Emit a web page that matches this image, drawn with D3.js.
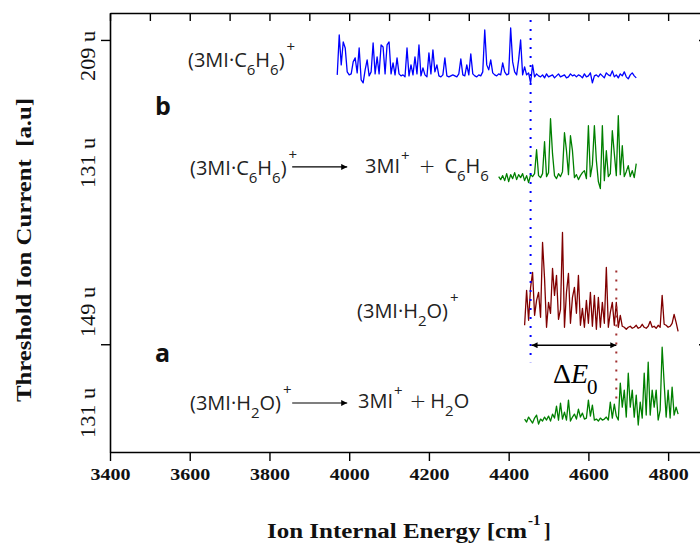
<!DOCTYPE html>
<html>
<head>
<meta charset="utf-8">
<script src="https://cdn.jsdelivr.net/npm/d3@7/dist/d3.min.js"></script>
<style>
html,body{margin:0;padding:0;background:#fff;overflow:hidden;}
svg{display:block;}
</style>
</head>
<body>
<svg id="chart" width="700" height="546"></svg>
<script>
// ---------------- data ----------------
const stepCm = 5;

// (3MI·C6H6)+  209 u  (blue)
const blueStart = 3970;
const blueValues = [
  0, 4.0, 1.0, 3.3, 2.7, 0.3, 0, 0.1, 1.3, 1.7,
  0.2, 2.7, -0.5, -0.8, 0.5, 1.5, -0.1, 0.3, 3.2, 0.1,
  1.8, 0.1, 3.0, 2.8, 0.1, 3.0, 3.3, 0.1, 1.2, 0,
  1.7, 0.1, -0.1, 0, -0.2, 2.7, -0.1, 1.0, 0, 1.8,
  0.1, 3.0, -0.1, 0.7, 0, -0.2, 2.2, 0.1, 2.5, 0.3,
  1.0, -0.1, -0.2, 0, 1.7, -0.1, -0.2, -0.1, 0, -0.1,
  -0.2, 0.1, 1.6, 0, -0.1, 1.0, 0, 2.1, 0.1, -0.1,
  -0.2, 0, -0.1, 0.3, 4.5, 1.0, 0.5, 1.5, 0.2, 0,
  -0.1, 0.1, 0, 1.2, 0.3, 0, 0.1, 4.7, 1.3, 0.3,
  0, 1.5, 3.5, 0, 0.8, 0, 0.2, -0.8, 1.0, -0.2,
  0.1,
  -0.1, -0.2, 0.0, -0.3, 0.1, -0.2, -0.1, 0.0, -0.3, -0.1,
  0.1, -0.2, -0.1, 0.0, -0.3, -0.2, 0.1, -0.1, 0.0, -0.2,
  0.0, -0.1, -0.3, 0.1, -0.2, -0.1, 0.2, -0.8, -0.1, 0.0,
  -0.2, 0.1, -0.1, -0.3, 0.2, 0.0, -0.1, 0.4, -0.2, 0.0,
  -0.3, 0.1, -0.1, 0.3, -0.2, -0.4, 0.0, 0.2, -0.1, -0.3
];

// (3MI·C6H6)+ -> 3MI+ + C6H6   131 u  (green, panel b)
const greenTopStart = 4375;
const greenTopValues = [
  0.0, -0.3, 0.1, -0.4, 0.3, -0.5, 0.2, -0.2, 0.4, -0.3,
  0.2, -0.1, 0.3, -0.4, 0.1, -0.6, 0.2, 0.0, 0.3, 2.7,
  0.1, -0.1, 0.3, 3.5, 0.0, 0.4, 5.8, 2.3, 0.1, -0.2,
  0.3, 0.0, 0.5, 4.4, 2.6, 0.2, 4.1, 2.6, -0.1, 0.2,
  -0.3, 0.1, 0.4, 0.6, -0.2, 5.1, 0.0, 1.2, 5.1, 1.6,
  -0.5, -1.2, 5.1, -0.4, 2.6, 0.0, 0.3, 4.6, 2.3, 0.1,
  6.1, 0.2, 3.1, 0.0, 0.5, 1.1, 0.0, 0.6, -0.1, 1.3
];

// (3MI·H2O)+  149 u  (dark red)
const redStart = 4440;
const redValues = [
  0.2, 3.7, 0.7, 4.0, 5.5, 1.2, 2.7, 3.5, 1.0, 8.5,
  4.9, 0.0, 2.5, 1.4, 5.9, 3.2, 5.2, 0.8, 1.8, 9.5,
  0.0, 3.5, 5.4, 0.4, 3.0, 4.0, 1.4, 5.2, 0.2, 1.9,
  0.0, 2.7, 0.4, 3.5, 0.1, 3.2, -0.2, 3.0, 0.0, 2.5,
  0.4, 6.0, 0.0, 1.5, 2.5, 0.2, 2.5, 0.0, 1.2, 0.1,
  0.0, -0.2, 0.0, 0.1, -0.1, 0.0, 0.2, -0.1, 0.0, 0.3,
  0.0, -0.1, 0.1, 0.6, 0.0, 0.1, -0.1, 0.2, 0.0, 3.2,
  0.3, 0.2, 0.0, 0.1, 0.4, 1.3, 0.5, -0.4
];

// (3MI·H2O)+ -> 3MI+ + H2O   131 u  (green, panel a)
const greenBottomStart = 4440;
const greenBottomValues = [
  0.1, -0.2, 0.3, 0.0, -0.3, 0.2, 0.5, -0.4, 0.1, -0.1,
  0.3, 0.0, 0.4, -0.1, 0.6, 0.2, 1.4, 0.0, 1.7, 0.1,
  0.8, 0.0, 2.0, -0.1, 0.3, 0.6, 0.1, 1.1, 0.3, 0.7,
  0.1, 0.2, 2.0, 0.4, 1.5, 0.0, 0.1, -0.1, 0.2, 0.0,
  0.1, 0.3, 0.0, 1.8, 0.2, 1.6, 0.4, 0.0, 3.7, 1.3,
  3.0, 0.3, 4.7, 1.3, 3.0, 0.3, 2.5, -0.5, 1.8, 0.2,
  4.7, 0.5, 5.8, 0.5, 3.0, 1.3, 3.0, 0.0, 1.0, 7.3,
  3.7, 0.3, 3.0, 0.2, 3.3, 0.5, 1.3, 0.6
];

const traceOffsets = [37.8, 27.6, 12.5, 3.2];
const traceColors = ["#0000ff", "#008000", "#800000", "#008000"];

const xMajorTicks = [3400, 3600, 3800, 4000, 4200, 4400, 4600, 4800];
const xMinorTicks = [3500, 3700, 3900, 4100, 4300, 4500, 4700];
const leftTicks = [41.3, 10.8];
const massLabels = ["209 u", "131 u", "149 u", "131 u"];
const massLabelPos = [39.7, 28.97, 14.03, 3.91];

const thresholdC6H6 = 4455;
const thresholdH2O = 4670;

// ---------------- chart ----------------
const svg = d3.select("#chart");
const x = d3.scaleLinear().domain([3400, 4900]).range([110, 708]);
const y = d3.scaleLinear().domain([0, 44]).range([452, 13]);

const defs = svg.append("defs");
defs.append("marker").attr("id", "ah")
  .attr("viewBox", "0 0 10 10").attr("refX", 10).attr("refY", 5)
  .attr("markerWidth", 9).attr("markerHeight", 6)
  .attr("markerUnits", "userSpaceOnUse")
  .attr("orient", "auto-start-reverse")
  .append("path").attr("d", "M0,0 L10,5 L0,10 Z").attr("fill", "#000");

// traces
const series = [
  {start: blueStart, values: blueValues},
  {start: greenTopStart, values: greenTopValues},
  {start: redStart, values: redValues},
  {start: greenBottomStart, values: greenBottomValues}
];
const line = d3.line().x(d => x(d.e)).y(d => y(d.v));
series.forEach((s, k) => {
  const pts = s.values.map((v, i) => ({e: s.start + i * stepCm, v: traceOffsets[k] + v}));
  svg.append("path").datum(pts)
    .attr("d", line)
    .attr("fill", "none")
    .attr("stroke", traceColors[k])
    .attr("stroke-width", 1.3)
    .attr("stroke-linejoin", "round");
});

// dotted threshold lines
svg.append("line")
  .attr("x1", x(thresholdC6H6)).attr("x2", x(thresholdC6H6))
  .attr("y1", y(43.3)).attr("y2", y(9.0))
  .attr("stroke", "#0000ff").attr("stroke-width", 2)
  .attr("stroke-dasharray", "2,7");
svg.append("line")
  .attr("x1", x(thresholdH2O)).attr("x2", x(thresholdH2O))
  .attr("y1", y(18.2)).attr("y2", y(4.9))
  .attr("stroke", "#a03030").attr("stroke-width", 2)
  .attr("stroke-dasharray", "2,7");

// delta E arrow
svg.append("line")
  .attr("x1", x(thresholdC6H6) + 1).attr("x2", x(thresholdH2O))
  .attr("y1", y(10.7)).attr("y2", y(10.7))
  .attr("stroke", "#000").attr("stroke-width", 1.5)
  .attr("marker-start", "url(#ah)").attr("marker-end", "url(#ah)");

const dE = svg.append("text")
  .attr("x", x(4511)).attr("y", y(6.92))
  .attr("font-family", "'Liberation Serif', serif")
  .attr("font-size", 28).attr("fill", "#000");
dE.append("tspan").text("\u0394");
dE.append("tspan").text("E").attr("font-style", "italic");
dE.append("tspan").text("0").attr("font-size", 21).attr("dy", 11).attr("dx", -1);

// axes
const axisFont = "'Liberation Serif', 'Times New Roman', serif";
const gBottom = svg.append("g").attr("transform", `translate(0,${y(0)})`);
gBottom.call(d3.axisBottom(x).tickValues(xMinorTicks).tickSize(4).tickFormat(""));
gBottom.call(d3.axisBottom(x).tickValues(xMajorTicks).tickSize(9).tickSizeOuter(0).tickFormat(d3.format("d")));
gBottom.selectAll("path.domain").attr("stroke-width", 1.6);
gBottom.selectAll(".tick line").attr("stroke-width", 1.4);
gBottom.selectAll("text")
  .attr("y", 28).attr("dy", null)
  .attr("font-family", axisFont).attr("font-weight", "bold")
  .attr("font-size", 17).attr("fill", "#111")
  .attr("textLength", 40).attr("lengthAdjust", "spacingAndGlyphs");

const gTop = svg.append("g").attr("transform", `translate(0,${y(44)})`);
gTop.call(d3.axisTop(x).tickValues(xMajorTicks.concat(xMinorTicks)).tickSize(-8).tickSizeOuter(0).tickFormat(""));
gTop.selectAll("path.domain").attr("stroke-width", 1.6);
gTop.selectAll(".tick line").attr("stroke-width", 1.4);

const gLeft = svg.append("g").attr("transform", `translate(${x(3400)},0)`);
gLeft.call(d3.axisLeft(y).tickValues(leftTicks).tickSize(9).tickSizeOuter(0).tickFormat(""));
gLeft.selectAll("path.domain").attr("stroke-width", 1.6);
gLeft.selectAll(".tick line").attr("stroke-width", 1.4);

const gRight = svg.append("g").attr("transform", `translate(${x(4900)},0)`);
gRight.call(d3.axisRight(y).tickValues(leftTicks).tickSize(-9).tickSizeOuter(0).tickFormat(""));
gRight.selectAll("path.domain").attr("stroke-width", 1.6);
gRight.selectAll(".tick line").attr("stroke-width", 1.4);

// mass labels (rotated)
massLabels.forEach((m, i) => {
  svg.append("text")
    .attr("transform", `translate(95,${y(massLabelPos[i])}) rotate(-90)`)
    .attr("text-anchor", "middle")
    .attr("font-family", axisFont).attr("font-size", 22).attr("fill", "#111")
    .attr("textLength", 50).attr("lengthAdjust", "spacingAndGlyphs")
    .text(m);
});

// axis titles
svg.append("text")
  .attr("transform", `translate(31,250) rotate(-90)`)
  .attr("text-anchor", "middle")
  .attr("font-family", axisFont).attr("font-weight", "bold")
  .attr("font-size", 21).attr("fill", "#111")
  .attr("textLength", 304).attr("lengthAdjust", "spacingAndGlyphs")
  .text("Threshold Ion Current\u00a0\u00a0[a.u]");

svg.append("text")
  .attr("x", 267).attr("y", 538)
  .attr("font-family", axisFont).attr("font-weight", "bold")
  .attr("font-size", 20).attr("fill", "#111")
  .attr("textLength", 260).attr("lengthAdjust", "spacingAndGlyphs")
  .text("Ion Internal Energy [cm");
svg.append("text")
  .attr("x", 528).attr("y", 525)
  .attr("font-family", axisFont).attr("font-weight", "bold")
  .attr("font-size", 15).attr("fill", "#111")
  .text("-1");
svg.append("text")
  .attr("x", 544).attr("y", 538)
  .attr("font-family", axisFont).attr("font-weight", "bold")
  .attr("font-size", 20).attr("fill", "#111")
  .text("]");

// annotations
function richText(px, py, parts) {
  const t = svg.append("text").attr("x", px).attr("y", py)
    .attr("font-family", "'Open Sans', 'Noto Sans', sans-serif")
    .attr("font-size", 20).attr("fill", "#222");
  let shift = 0;
  parts.forEach(p => {
    const target = p.sub ? 8 : (p.sup ? p.sup : 0);
    const ts = t.append("tspan").text(p.t).attr("dy", target - shift);
    if (p.sub || p.sup) ts.attr("font-size", 15);
    if (p.op) ts.attr("font-family", "'DejaVu Sans', sans-serif").attr("font-size", 20).attr("font-weight", 300);
    if (p.dx) ts.attr("dx", p.dx);
    shift = target;
  });
  return t;
}
const C6H6complex = [{t: "(3MI\u00b7C"}, {t: "6", sub: true}, {t: "H"}, {t: "6", sub: true}, {t: ")"}, {t: "+", sup: -15, dx: 2}];
const H2Ocomplex = [{t: "(3MI\u00b7H"}, {t: "2", sub: true}, {t: "O)"}, {t: "+", sup: -15, dx: 2}];
const C6H6products = [{t: "3MI"}, {t: "+", sup: -12, dx: 1}, {t: "+", op: true, dx: 9}, {t: "C", dx: 9}, {t: "6", sub: true}, {t: "H"}, {t: "6", sub: true}];
const H2Oproducts = [{t: "3MI"}, {t: "+", sup: -12, dx: 1}, {t: "+", op: true, dx: 7}, {t: "H", dx: 4}, {t: "2", sub: true}, {t: "O"}];

richText(x(3595.7), y(38.59), C6H6complex);
richText(x(3600.7), y(27.76), C6H6complex);
richText(x(4039.8), y(27.96), C6H6products);
richText(x(4019.7), y(13.43), H2Ocomplex);
richText(x(3600.7), y(4.21), H2Ocomplex);
richText(x(4022), y(4.41), H2Oproducts);

// reaction arrows
[[28.57], [4.91]].forEach(([yy]) => {
  svg.append("line")
    .attr("x1", x(3857)).attr("x2", x(3995))
    .attr("y1", y(yy)).attr("y2", y(yy))
    .attr("stroke", "#000").attr("stroke-width", 1.2)
    .attr("marker-end", "url(#ah)");
});

// panel letters
[["b", 33.78], ["a", 9.02]].forEach(([l, yy]) => {
  svg.append("text").attr("x", x(3513)).attr("y", y(yy))
    .attr("font-family", "'Open Sans', sans-serif").attr("font-weight", "bold")
    .attr("font-size", 25).attr("fill", "#111").text(l);
});
</script>
</body>
</html>
